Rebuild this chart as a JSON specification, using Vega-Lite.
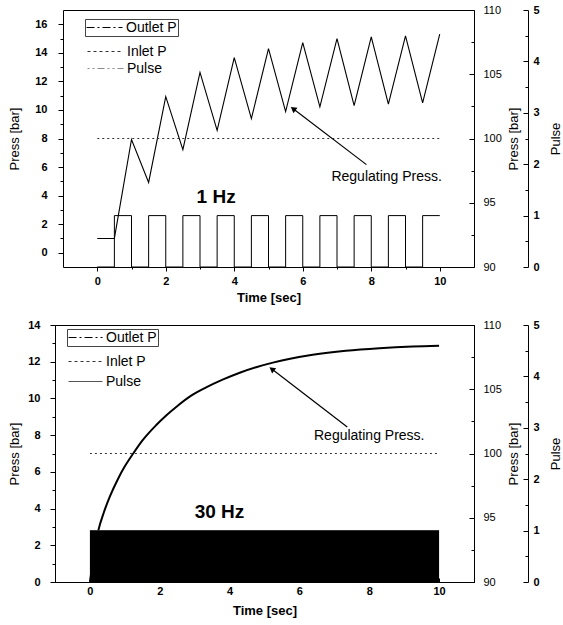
{
  "$schema": "https://vega.github.io/schema/vega-lite/v6.json",
  "padding": {"left": 8, "top": 4, "right": 0, "bottom": 0},
  "spacing": 14,
  "config": {
    "font": "Liberation Sans",
    "view": {"stroke": "black", "strokeWidth": 1},
    "axis": {"grid": false, "domainColor": "black", "tickColor": "black", "labelColor": "black", "titleColor": "black", "labelFontSize": 11, "titleFontSize": 13, "titleFontWeight": "normal", "tickWidth": 1, "domainWidth": 1},
    "legend": {"labelFontSize": 14, "labelColor": "black", "labelFont": "Liberation Sans"}
  },
  "resolve": {"scale": {"x": "independent", "y": "independent", "color": "independent"}, "legend": {"color": "independent"}},
  "datasets": {
    "outlet1": [
      {"t": 0, "p": 1}, {"t": 0.5, "p": 1}, {"t": 1, "p": 7.93}, {"t": 1.5, "p": 4.92}, {"t": 2, "p": 10.93},
      {"t": 2.5, "p": 7.22}, {"t": 3, "p": 12.63}, {"t": 3.5, "p": 8.57}, {"t": 4, "p": 13.67}, {"t": 4.5, "p": 9.39},
      {"t": 5, "p": 14.3}, {"t": 5.5, "p": 9.88}, {"t": 6, "p": 14.72}, {"t": 6.5, "p": 10.22}, {"t": 7, "p": 15.0},
      {"t": 7.5, "p": 10.31}, {"t": 8, "p": 15.12}, {"t": 8.5, "p": 10.4}, {"t": 9, "p": 15.19}, {"t": 9.5, "p": 10.5},
      {"t": 10, "p": 15.31}
    ],
    "inlet1": [{"t": 0, "p": 100}, {"t": 10, "p": 100}],
    "pulse1": [
      {"t": 0, "pulse": 0}, {"t": 0.5, "pulse": 1}, {"t": 1, "pulse": 0}, {"t": 1.5, "pulse": 1}, {"t": 2, "pulse": 0},
      {"t": 2.5, "pulse": 1}, {"t": 3, "pulse": 0}, {"t": 3.5, "pulse": 1}, {"t": 4, "pulse": 0}, {"t": 4.5, "pulse": 1},
      {"t": 5, "pulse": 0}, {"t": 5.5, "pulse": 1}, {"t": 6, "pulse": 0}, {"t": 6.5, "pulse": 1}, {"t": 7, "pulse": 0},
      {"t": 7.5, "pulse": 1}, {"t": 8, "pulse": 0}, {"t": 8.5, "pulse": 1}, {"t": 9, "pulse": 0}, {"t": 9.5, "pulse": 1},
      {"t": 10, "pulse": 1}
    ],
    "note1": [{"t": 8.45, "p": 5.3, "label": "Regulating Press."}],
    "hz1": [{"t": 3.47, "p": 3.9, "label": "1 Hz"}],
    "arrow1": [{"t": 7.86, "p": 6.17, "t2": 5.72, "p2": 10.08}],
    "head1": [{"t": 5.72, "p": 10.08}],
    "outlet30": [
      {"t": 0, "p": 0}, {"t": 0.24, "p": 2.8}, {"t": 0.4, "p": 3.8}, {"t": 0.57, "p": 4.65}, {"t": 0.8, "p": 5.6},
      {"t": 1.0, "p": 6.3}, {"t": 1.24, "p": 7.0}, {"t": 1.5, "p": 7.7}, {"t": 1.9, "p": 8.55}, {"t": 2.2, "p": 9.1},
      {"t": 2.48, "p": 9.55}, {"t": 2.9, "p": 10.15}, {"t": 3.33, "p": 10.6}, {"t": 3.8, "p": 11.02}, {"t": 4.29, "p": 11.4},
      {"t": 4.76, "p": 11.7}, {"t": 5.24, "p": 11.95}, {"t": 5.7, "p": 12.15}, {"t": 6.38, "p": 12.38}, {"t": 7.33, "p": 12.6},
      {"t": 8.29, "p": 12.74}, {"t": 9.24, "p": 12.83}, {"t": 10, "p": 12.87}
    ],
    "inlet30": [{"t": 0, "p": 100}, {"t": 10, "p": 100}],
    "pulse30": [{"t": 0, "pulse": 1}, {"t": 10, "pulse": 1}],
    "note30": [{"t": 8.0, "p": 7.95, "label": "Regulating Press."}],
    "hz30": [{"t": 3.71, "p": 3.8, "label": "30 Hz"}],
    "arrow30": [{"t": 7.37, "p": 8.44, "t2": 5.21, "p2": 11.6}],
    "head30": [{"t": 5.21, "p": 11.6}]
  },
  "vconcat": [
    {
      "width": 419,
      "height": 257,
      "view": {"stroke": null},
      "resolve": {"scale": {"y": "independent", "color": "independent"}, "axis": {"x": "independent", "y": "independent"}, "legend": {"color": "independent"}},
      "layer": [
        {
          "data": {"name": "outlet1"},
          "mark": {"type": "line", "strokeWidth": 1.1},
          "encoding": {
            "x": {"field": "t", "type": "quantitative", "scale": {"domain": [-1, 11], "range": [8, 419], "nice": false, "zero": false},
              "axis": {"values": [0, 1, 2, 3, 4, 5, 6, 7, 8, 9, 10], "labelExpr": "datum.value % 2 ? '' : datum.label",
                "tickSize": {"condition": {"test": "datum.value % 2", "value": 2}, "value": 4},
                "labelPadding": 4, "labelFontWeight": "bold", "title": "Time [sec]", "titleFontWeight": "bold", "titlePadding": 5}},
            "y": {"field": "p", "type": "quantitative", "scale": {"domain": [-1, 17], "nice": false, "zero": false},
              "axis": {"orient": "left", "offset": -8, "values": [0, 1, 2, 3, 4, 5, 6, 7, 8, 9, 10, 11, 12, 13, 14, 15, 16],
                "labelExpr": "datum.value % 2 ? '' : datum.label",
                "tickSize": {"condition": {"test": "datum.value % 2", "value": 3}, "value": 5},
                "labelPadding": 11, "labelFontWeight": "bold", "title": "Press [bar]", "titlePadding": 13}},
            "color": {"datum": "Outlet P", "type": "nominal", "scale": {"range": ["black"]},
              "legend": {"title": null, "orient": "none", "legendX": 30, "legendY": 9, "symbolType": "stroke", "symbolSize": 1296, "clipHeight": 15,
                "symbolDash": [8, 3, 2, 3], "symbolStrokeWidth": 1, "strokeColor": "#444", "padding": 1, "labelOffset": 3}}
          }
        },
        {
          "data": {"name": "inlet1"},
          "mark": {"type": "line", "strokeWidth": 1, "strokeDash": [2, 3]},
          "encoding": {
            "x": {"field": "t", "type": "quantitative", "scale": {"domain": [-1, 11], "range": [8, 419], "nice": false, "zero": false},
              "axis": {"orient": "top", "labels": false, "ticks": false, "title": null, "domain": true}},
            "y": {"field": "p", "type": "quantitative", "scale": {"domain": [90, 110], "nice": false, "zero": false},
              "axis": {"orient": "right", "values": [90, 92.5, 95, 97.5, 100, 102.5, 105, 107.5, 110],
                "labelExpr": "datum.value % 5 ? '' : datum.label",
                "tickSize": {"condition": {"test": "datum.value % 5", "value": -3}, "value": -5},
                "labelPadding": 14, "title": "Press [bar]", "titleAngle": 270, "titleBaseline": "top", "titlePadding": 6}},
            "color": {"datum": "Inlet P", "type": "nominal", "scale": {"range": ["#333"]},
              "legend": {"title": null, "orient": "none", "legendX": 32, "legendY": 34, "symbolType": "stroke", "symbolSize": 1296, "clipHeight": 15,
                "symbolDash": [3, 3], "symbolStrokeWidth": 1, "padding": 0, "labelOffset": 3}}
          }
        },
        {
          "data": {"name": "pulse1"},
          "mark": {"type": "line", "strokeWidth": 1, "interpolate": "step-after"},
          "encoding": {
            "x": {"field": "t", "type": "quantitative", "axis": null},
            "y": {"field": "pulse", "type": "quantitative", "scale": {"domain": [0, 5], "nice": false, "zero": false},
              "axis": {"orient": "right", "offset": 54, "values": [0, 0.5, 1, 1.5, 2, 2.5, 3, 3.5, 4, 4.5, 5],
                "labelExpr": "datum.value % 1 ? '' : format(datum.value, 'd')",
                "tickSize": {"condition": {"test": "datum.value % 1", "value": -3}, "value": -5},
                "labelPadding": 10, "labelFontWeight": "bold", "title": "Pulse", "titleAngle": 270, "titleBaseline": "top", "titlePadding": 10}},
            "color": {"datum": "Pulse", "type": "nominal", "scale": {"range": ["black"]},
              "legend": {"title": null, "orient": "none", "legendX": 32, "legendY": 51, "symbolType": "stroke", "symbolSize": 1296, "clipHeight": 15,
                "symbolDash": [2, 3, 2, 3, 7, 3], "symbolStrokeWidth": 1, "symbolOpacity": 0.45, "padding": 0, "labelOffset": 3}}
          }
        },
        {
          "data": {"name": "note1"},
          "mark": {"type": "text", "fontSize": 14, "color": "black"},
          "encoding": {
            "x": {"field": "t", "type": "quantitative", "axis": null},
            "y": {"field": "p", "type": "quantitative", "scale": {"domain": [-1, 17], "nice": false, "zero": false}, "axis": null},
            "text": {"field": "label"}
          }
        },
        {
          "data": {"name": "hz1"},
          "mark": {"type": "text", "fontSize": 19, "fontWeight": "bold", "color": "black"},
          "encoding": {
            "x": {"field": "t", "type": "quantitative", "axis": null},
            "y": {"field": "p", "type": "quantitative", "scale": {"domain": [-1, 17], "nice": false, "zero": false}, "axis": null},
            "text": {"field": "label"}
          }
        },
        {
          "data": {"name": "arrow1"},
          "mark": {"type": "rule", "color": "black", "strokeWidth": 1.2},
          "encoding": {
            "x": {"field": "t", "type": "quantitative", "axis": null},
            "x2": {"field": "t2"},
            "y": {"field": "p", "type": "quantitative", "scale": {"domain": [-1, 17], "nice": false, "zero": false}, "axis": null},
            "y2": {"field": "p2"}
          }
        },
        {
          "data": {"name": "head1"},
          "mark": {"type": "point", "shape": "triangle-up", "angle": 307, "size": 45, "filled": true, "color": "black", "opacity": 1},
          "encoding": {
            "x": {"field": "t", "type": "quantitative", "axis": null},
            "y": {"field": "p", "type": "quantitative", "scale": {"domain": [-1, 17], "nice": false, "zero": false}, "axis": null}
          }
        }
      ]
    },
    {
      "width": 419,
      "height": 257,
      "resolve": {"scale": {"y": "independent", "color": "independent"}, "axis": {"y": "independent"}, "legend": {"color": "independent"}},
      "layer": [
        {
          "data": {"name": "outlet30"},
          "mark": {"type": "line", "strokeWidth": 2, "interpolate": "monotone"},
          "encoding": {
            "x": {"field": "t", "type": "quantitative", "scale": {"domain": [-1, 11], "nice": false, "zero": false},
              "axis": {"values": [0, 1, 2, 3, 4, 5, 6, 7, 8, 9, 10], "labelExpr": "datum.value % 2 ? '' : datum.label",
                "tickSize": {"condition": {"test": "datum.value % 2", "value": -2}, "value": -4},
                "labelPadding": 7, "labelFontWeight": "bold", "title": "Time [sec]", "titleFontWeight": "bold", "titlePadding": 8}},
            "y": {"field": "p", "type": "quantitative", "scale": {"domain": [0, 14], "nice": false, "zero": false},
              "axis": {"orient": "left", "values": [0, 1, 2, 3, 4, 5, 6, 7, 8, 9, 10, 11, 12, 13, 14],
                "labelExpr": "datum.value % 2 ? '' : datum.label",
                "tickSize": {"condition": {"test": "datum.value % 2", "value": 3}, "value": 5},
                "labelPadding": 10, "labelFontWeight": "bold", "title": "Press [bar]", "titlePadding": 6}},
            "color": {"datum": "Outlet P", "type": "nominal", "scale": {"range": ["black"]},
              "legend": {"title": null, "orient": "none", "legendX": 12, "legendY": 4, "symbolType": "stroke", "symbolSize": 1156, "clipHeight": 15,
                "symbolDash": [8, 3, 2, 3], "symbolStrokeWidth": 1, "strokeColor": "#444", "padding": 1, "labelOffset": 3}}
          }
        },
        {
          "data": {"name": "inlet30"},
          "mark": {"type": "line", "strokeWidth": 1, "strokeDash": [2, 3]},
          "encoding": {
            "x": {"field": "t", "type": "quantitative", "scale": {"domain": [-1, 11], "nice": false, "zero": false}},
            "y": {"field": "p", "type": "quantitative", "scale": {"domain": [90, 110], "nice": false, "zero": false},
              "axis": {"orient": "right", "values": [90, 92.5, 95, 97.5, 100, 102.5, 105, 107.5, 110],
                "labelExpr": "datum.value % 5 ? '' : datum.label",
                "tickSize": {"condition": {"test": "datum.value % 5", "value": -3}, "value": -5},
                "labelPadding": 14, "title": "Press [bar]", "titleAngle": 270, "titleBaseline": "top", "titlePadding": 6}},
            "color": {"datum": "Inlet P", "type": "nominal", "scale": {"range": ["#333"]},
              "legend": {"title": null, "orient": "none", "legendX": 13, "legendY": 29, "symbolType": "stroke", "symbolSize": 1156, "clipHeight": 15,
                "symbolDash": [3, 3], "symbolStrokeWidth": 1, "padding": 0, "labelOffset": 3}}
          }
        },
        {
          "data": {"name": "pulse30"},
          "mark": {"type": "line", "strokeWidth": 1},
          "encoding": {
            "x": {"field": "t", "type": "quantitative", "scale": {"domain": [-1, 11], "nice": false, "zero": false}},
            "y": {"field": "pulse", "type": "quantitative", "scale": {"domain": [0, 5], "nice": false, "zero": false},
              "axis": {"orient": "right", "offset": 54, "values": [0, 0.5, 1, 1.5, 2, 2.5, 3, 3.5, 4, 4.5, 5],
                "labelExpr": "datum.value % 1 ? '' : format(datum.value, 'd')",
                "tickSize": {"condition": {"test": "datum.value % 1", "value": -3}, "value": -5},
                "labelPadding": 10, "labelFontWeight": "bold", "title": "Pulse", "titleAngle": 270, "titleBaseline": "top", "titlePadding": 10}},
            "color": {"datum": "Pulse", "type": "nominal", "scale": {"range": ["#555"]},
              "legend": {"title": null, "orient": "none", "legendX": 13, "legendY": 49, "symbolType": "stroke", "symbolSize": 1156, "clipHeight": 15,
                "symbolStrokeWidth": 1, "padding": 0, "labelOffset": 3}}
          }
        },
        {
          "data": {"name": "pulse30"},
          "mark": {"type": "area", "color": "black"},
          "encoding": {
            "x": {"field": "t", "type": "quantitative"},
            "y": {"field": "pulse", "type": "quantitative", "scale": {"domain": [0, 5], "nice": false, "zero": false}, "axis": null}
          }
        },
        {
          "data": {"name": "note30"},
          "mark": {"type": "text", "fontSize": 14, "color": "black"},
          "encoding": {
            "x": {"field": "t", "type": "quantitative"},
            "y": {"field": "p", "type": "quantitative", "scale": {"domain": [0, 14], "nice": false, "zero": false}, "axis": null},
            "text": {"field": "label"}
          }
        },
        {
          "data": {"name": "hz30"},
          "mark": {"type": "text", "fontSize": 19, "fontWeight": "bold", "color": "black"},
          "encoding": {
            "x": {"field": "t", "type": "quantitative"},
            "y": {"field": "p", "type": "quantitative", "scale": {"domain": [0, 14], "nice": false, "zero": false}, "axis": null},
            "text": {"field": "label"}
          }
        },
        {
          "data": {"name": "arrow30"},
          "mark": {"type": "rule", "color": "black", "strokeWidth": 1.2},
          "encoding": {
            "x": {"field": "t", "type": "quantitative"},
            "x2": {"field": "t2"},
            "y": {"field": "p", "type": "quantitative", "scale": {"domain": [0, 14], "nice": false, "zero": false}, "axis": null},
            "y2": {"field": "p2"}
          }
        },
        {
          "data": {"name": "head30"},
          "mark": {"type": "point", "shape": "triangle-up", "angle": 307, "size": 45, "filled": true, "color": "black", "opacity": 1},
          "encoding": {
            "x": {"field": "t", "type": "quantitative"},
            "y": {"field": "p", "type": "quantitative", "scale": {"domain": [0, 14], "nice": false, "zero": false}, "axis": null}
          }
        }
      ]
    }
  ]
}
